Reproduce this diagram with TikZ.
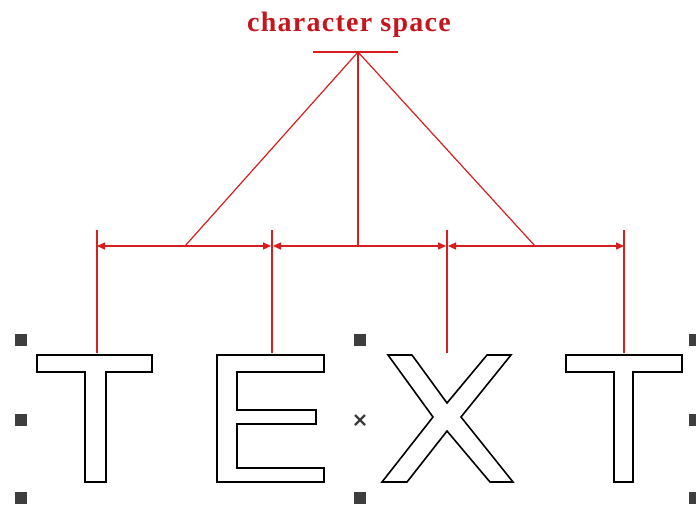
\documentclass[tikz,border=0pt]{standalone}
\usepackage{fontspec}
\setmainfont{Liberation Serif}
\usetikzlibrary{arrows.meta}
\definecolor{dimred}{RGB}{214,30,30}
\definecolor{labelred}{RGB}{196,22,30}
\definecolor{handlegray}{RGB}{62,62,62}
\tikzset{
  dimline/.style={dimred, line width=1.2pt},
  dimtip/.tip={Triangle[length=8pt,width=7pt]},
  dimarrow/.style={dimline, dimtip-dimtip},
  glyph/.style={draw=black, line width=1.6pt, line join=miter},
  handle/.style={fill=handlegray, draw=none},
  labeltext/.style={text=labelred, font=\fontsize{28}{30}\selectfont\bfseries\addfontfeature{LetterSpace=4.5}}
}
\newcommand{\selhandle}[1]{\fill[handle] (#1) ++(-6,-6) rectangle ++(12,12);}

\begin{document}
\begin{tikzpicture}[x=1pt, y=-1pt]
    \useasboundingbox (0,0) rectangle (696,507);

    % Titulo
    \node[labeltext, anchor=base] (label) at (349,31) {character space};

    % Puntos de referencia
    \coordinate (apex) at (358,52);
    \coordinate (barL) at (313,52);
    \coordinate (barR) at (398,52);
    \coordinate (d1) at (97,246);
    \coordinate (d2) at (272,246);
    \coordinate (d3) at (447,246);
    \coordinate (d4) at (624,246);
    \coordinate (f1) at (185,246);
    \coordinate (f2) at (358,246);
    \coordinate (f3) at (535,246);

    % Barra y lineas desde el vertice
    \draw[dimline] (barL) -- (barR);
    \draw[dimline] (apex) -- (f1);
    \draw[dimline] (apex) -- (f2);
    \draw[dimline] (apex) -- (f3);

    % Cotas entre caracteres
    \draw[dimarrow] (d1) -- ([xshift=-1pt]d2);
    \draw[dimarrow] ([xshift=1pt]d2) -- ([xshift=-1pt]d3);
    \draw[dimarrow] ([xshift=1pt]d3) -- (d4);

    % Lineas de referencia
    \foreach \i/\x in {1/97, 2/272, 3/447, 4/624} {
        \coordinate (e\i) at (\x,230);
        \coordinate (t\i) at (\x,353);
        \draw[dimline] (e\i) -- (t\i);
    }

    % Letra T
    \draw[glyph] (37,355) -- (152,355) -- (152,372) -- (106,372) -- (106,482)
        -- (85,482) -- (85,372) -- (37,372) -- cycle;

    % Letra E
    \draw[glyph] (217,355) -- (324,355) -- (324,372) -- (237,372) -- (237,410)
        -- (316,410) -- (316,424) -- (237,424) -- (237,468) -- (324,468)
        -- (324,482) -- (217,482) -- cycle;

    % Letra X
    \draw[glyph] (388,355) -- (412,355) -- (447,403) -- (487,355) -- (511,355)
        -- (461,417) -- (513,482) -- (490,482) -- (447,431) -- (407,482)
        -- (382,482) -- (433,417) -- cycle;

    % Letra T
    \draw[glyph] (566,355) -- (682,355) -- (682,372) -- (633,372) -- (633,482)
        -- (614,482) -- (614,372) -- (566,372) -- cycle;

    % Marcas de seleccion
    \foreach \hx in {21,360,695} {
        \selhandle{\hx,340}
        \selhandle{\hx,498}
    }
    \selhandle{21,420}
    \selhandle{695,420}
    \draw[handlegray, line width=2.4pt] (355,415) -- (365,425) (355,425) -- (365,415);

\end{tikzpicture}
\end{document}
